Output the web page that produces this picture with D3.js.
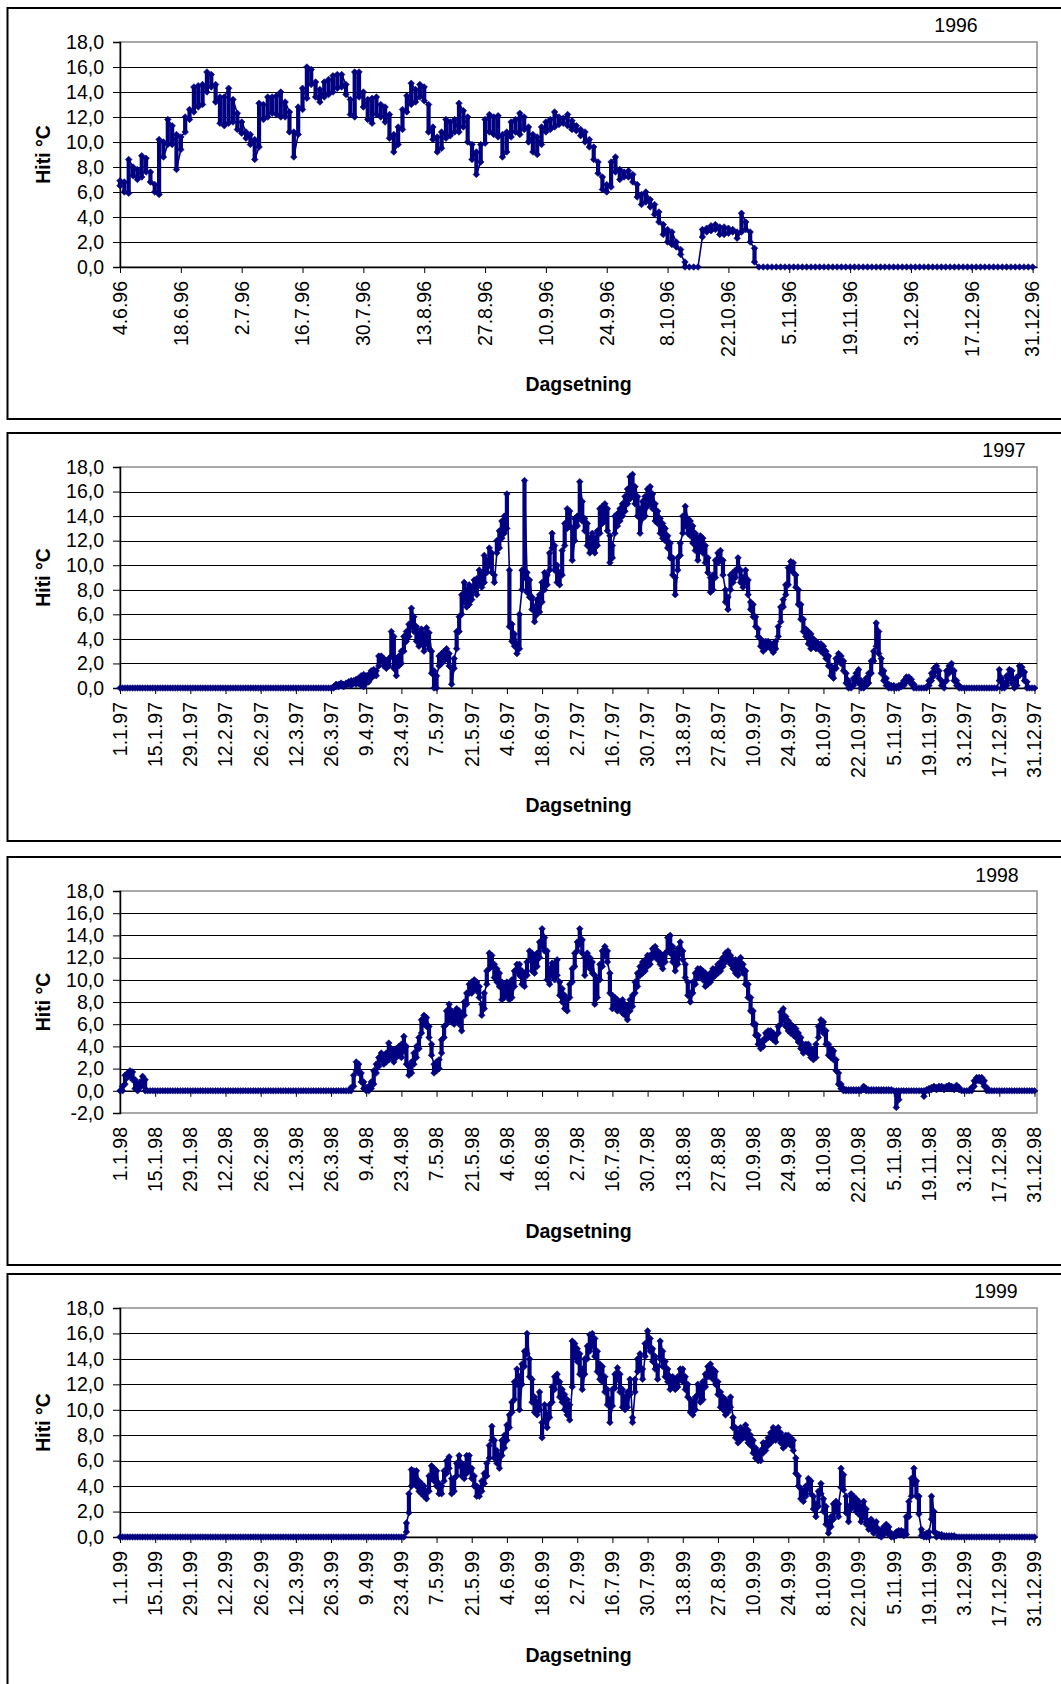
<!DOCTYPE html>
<html>
<head>
<meta charset="utf-8">
<script src="https://cdn.jsdelivr.net/npm/d3@7"></script>
<style>
  body { margin: 0; background: #fff; }
  svg { display: block; }
  text { font-family: "Liberation Sans", Arial, sans-serif; fill: #000; }
</style>
</head>
<body>
<svg id="chart" width="1061" height="1684"></svg>
<script>
// Daily water temperature (°C): lowest and highest reading of each day.

// 1996, from 4 June to 31 December
const low1996 = [
  6.5,6.0,5.9,7.3,7.0,7.2,7.6,6.8,6.0,5.8,
  8.8,9.8,9.8,7.8,9.4,10.8,11.8,12.4,12.8,13.0,
  14.0,14.4,13.2,11.5,11.3,11.5,11.6,11.0,10.7,10.3,
  9.8,8.6,9.6,11.8,12.0,12.3,12.2,12.0,12.0,10.8,
  8.8,10.6,12.6,13.5,14.6,13.6,13.2,13.6,13.8,14.0,
  14.3,14.4,13.8,12.2,12.0,13.6,12.8,11.8,11.5,12.2,
  12.0,11.6,10.3,9.2,9.8,11.0,12.4,13.0,13.2,13.6,
  13.3,10.8,10.2,9.2,9.5,10.3,10.5,10.8,10.8,11.2,
  10.0,8.6,7.4,8.4,9.9,10.8,10.6,10.4,8.8,9.2,
  10.4,10.8,10.6,11.0,10.0,9.2,9.0,9.8,10.8,11.0,
  11.2,11.4,11.5,11.3,11.0,10.9,10.5,10.0,9.6,8.6,
  7.5,6.2,6.0,6.4,7.6,7.0,7.2,7.2,6.8,5.6,
  5.0,5.2,4.8,4.2,3.6,2.6,2.0,1.8,1.6,1.0,
  0,0,0,0,2.4,2.8,2.9,3.0,2.6,2.6,
  2.7,2.8,2.3,2.8,3.0,2.0,0.4,0,0,0,
  0,0,0,0,0,0,0,0,0,0,
  0,0,0,0,0,0,0,0,0,0,
  0,0,0,0,0,0,0,0,0,0,
  0,0,0,0,0,0,0,0,0,0,
  0,0,0,0,0,0,0,0,0,0,
  0,0,0,0,0,0,0,0,0,0,
  0
];
const high1996 = [
  6.9,6.8,8.6,8.0,7.8,8.9,8.7,7.6,6.6,10.2,
  10.0,11.8,11.3,10.6,10.4,12.0,12.6,14.4,14.5,14.6,
  15.6,15.4,14.6,13.6,13.6,14.3,13.4,12.3,11.6,10.8,
  10.6,10.2,13.1,13.0,13.6,13.6,13.7,14.0,13.2,12.4,
  10.8,12.8,14.3,16.0,15.8,14.8,14.2,14.8,15.0,15.3,
  15.4,15.4,14.6,13.4,15.6,15.6,14.0,13.4,13.5,13.6,
  13.0,12.8,12.2,10.6,11.2,12.6,13.7,14.7,14.2,14.6,
  14.4,13.0,11.2,10.4,10.8,11.8,11.6,11.8,13.1,12.5,
  12.0,9.8,9.2,9.8,11.8,12.2,12.0,12.1,10.6,10.8,
  11.6,11.8,12.3,12.0,11.2,10.6,10.4,11.2,11.6,11.8,
  12.4,12.0,11.9,12.2,11.7,11.3,11.0,10.8,10.2,9.6,
  8.4,7.2,6.6,8.4,8.8,7.8,7.6,7.7,7.4,6.6,
  5.8,6.0,5.4,5.0,4.4,3.4,3.0,2.8,2.0,1.4,
  0.4,0,0,0,3.0,3.1,3.3,3.4,3.2,3.2,
  3.1,3.0,2.8,4.3,3.6,2.8,1.5,0,0,0,
  0,0,0,0,0,0,0,0,0,0,
  0,0,0,0,0,0,0,0,0,0,
  0,0,0,0,0,0,0,0,0,0,
  0,0,0,0,0,0,0,0,0,0,
  0,0,0,0,0,0,0,0,0,0,
  0,0,0,0,0,0,0,0,0,0,
  0
];

// 1997, whole year
const low1997 = [
  0,0,0,0,0,0,0,0,0,0, 0,0,0,0,0,0,0,0,0,0,
  0,0,0,0,0,0,0,0,0,0, 0,0,0,0,0,0,0,0,0,0,
  0,0,0,0,0,0,0,0,0,0, 0,0,0,0,0,0,0,0,0,0,
  0,0,0,0,0,0,0,0,0,0, 0,0,0,0,0,0,0,0,0,0,
  0,0,0,0,0,0,0.1,0.1,0.2,0.1,
  0.2,0.3,0.2,0.4,0.3,0.4,0.2,0.1,0.4,0.5,
  0.8,1.0,1.0,1.8,2.2,1.8,1.6,1.8,2.6,1.6,
  1.0,1.8,2.0,3.0,3.8,4.2,5.0,4.6,3.8,3.4,
  3.6,3.0,3.6,3.2,1.2,0,0,1.8,2.0,2.2,
  2.4,1.8,0.3,1.6,3.2,4.6,6.0,7.0,6.6,6.8,
  7.2,8.0,7.6,8.6,8.2,8.6,9.4,10.0,9.4,8.6,
  11.0,11.4,12.2,12.6,13.0,5.0,3.8,3.4,2.8,3.2,
  8.0,9.0,7.8,7.4,6.4,5.4,6.0,6.2,7.0,8.0,
  8.4,9.6,11.4,9.6,8.6,8.4,9.2,11.6,13.0,13.2,
  10.4,12.0,13.2,14.0,13.6,12.8,11.6,11.0,11.2,11.0,
  11.6,12.6,13.4,13.6,12.8,10.2,10.6,12.6,13.2,13.6,
  14.0,14.4,15.0,15.4,15.6,15.0,14.0,12.6,13.8,14.0,
  14.8,15.0,14.6,13.6,13.4,12.6,12.2,12.0,11.4,10.6,
  9.2,7.6,9.6,10.8,12.6,13.2,12.6,12.4,11.8,11.2,
  10.4,11.2,11.0,10.2,9.4,7.8,8.0,9.0,10.2,10.4,
  9.2,7.0,6.4,8.0,8.6,9.0,9.6,8.6,8.2,8.6,
  7.6,6.4,5.8,5.0,4.2,3.4,3.0,3.2,3.4,3.2,
  2.9,3.2,4.2,5.4,6.6,7.6,8.4,9.6,9.4,8.2,
  6.8,5.6,4.6,4.2,3.6,3.2,3.4,3.2,3.2,3.0,
  2.8,2.4,1.8,1.0,0.8,1.6,2.2,2.0,1.4,0.4,
  0,0,0.2,0.6,0.4,0,0,0.2,0.4,1.2,
  2.2,3.4,2.8,1.2,0.6,0.2,0,0,0,0,
  0,0.1,0.2,0.5,0.6,0.3,0,0,0,0,
  0,0,0.2,0.6,1.0,1.4,0.8,0.2,0,0.6,
  1.2,1.4,0.6,0.2,0,0,0,0,0,0,
  0,0,0,0,0,0,0,0,0,0,
  0.6,0,0,0.2,0.8,0.4,0,0.2,1.0,1.2,
  0.6,0,0,0,0
];
const high1997 = [
  0,0,0,0,0,0,0,0,0,0, 0,0,0,0,0,0,0,0,0,0,
  0,0,0,0,0,0,0,0,0,0, 0,0,0,0,0,0,0,0,0,0,
  0,0,0,0,0,0,0,0,0,0, 0,0,0,0,0,0,0,0,0,0,
  0,0,0,0,0,0,0,0,0,0, 0,0,0,0,0,0,0,0,0,0,
  0,0,0,0,0,0.1,0.3,0.3,0.4,0.3,
  0.4,0.5,0.6,0.6,0.7,0.8,1.0,1.1,1.0,1.1,
  1.4,1.5,1.4,2.6,2.6,2.4,2.2,2.4,4.6,4.2,
  2.4,2.6,3.0,4.2,4.6,5.2,6.5,5.8,5.0,4.6,
  4.8,4.4,4.9,4.5,3.0,1.4,1.0,2.6,2.8,3.0,
  3.2,2.8,1.6,2.4,4.6,5.8,7.6,8.6,8.0,8.4,
  8.2,8.8,8.9,9.6,9.4,10.8,10.4,11.4,11.0,9.2,
  12.0,12.8,13.6,14.0,15.8,9.6,5.2,4.4,3.6,6.0,
  9.6,16.9,9.4,8.8,7.4,6.6,7.2,7.6,8.6,9.4,
  9.2,11.0,12.6,11.6,10.0,9.4,11.2,13.4,14.6,14.4,
  13.0,13.8,14.0,16.8,15.2,13.8,13.4,12.2,12.6,12.2,
  12.8,14.6,14.8,15.0,14.6,12.4,11.6,14.0,14.2,14.6,
  15.0,15.6,16.2,17.2,17.4,16.4,15.6,14.6,15.2,15.6,
  16.2,16.4,15.8,15.0,14.4,13.8,13.4,13.0,12.4,11.8,
  10.6,9.0,10.6,11.8,14.0,14.8,13.8,13.6,13.2,12.6,
  12.2,12.4,12.2,11.6,10.6,9.0,9.2,10.4,11.0,11.2,
  10.4,8.0,7.4,9.2,9.4,9.6,10.6,9.6,9.0,9.6,
  8.8,7.0,6.8,5.8,4.8,4.0,3.8,3.8,3.8,3.6,
  3.6,3.8,5.0,6.6,7.2,8.4,9.8,10.3,10.2,9.2,
  8.0,6.8,5.6,4.8,4.6,4.4,4.0,3.8,3.6,3.6,
  3.4,3.0,2.6,1.8,1.6,2.4,2.8,2.6,2.2,1.2,
  0.6,0.2,0.8,1.2,1.5,0.6,0.4,0.8,1.2,2.2,
  3.0,5.3,4.6,2.4,1.4,0.8,0.3,0.2,0.2,0.1,
  0.2,0.3,0.6,0.9,0.9,0.7,0.3,0,0,0,
  0,0.1,0.6,1.2,1.6,1.8,1.4,0.6,0.4,1.4,
  1.8,2.0,1.4,0.6,0.2,0,0,0,0,0,
  0,0,0,0,0,0,0,0,0,0,
  1.5,0.8,0.4,1.0,1.5,1.4,0.6,0.9,1.8,1.7,
  1.3,0.5,0,0,0
];

// 1998, whole year
const low1998 = [
  0,0,0.6,1.2,1.4,1.0,0.2,0,0.3,0.6,
  0,0,0,0,0,0,0,0,0,0,
  0,0,0,0,0,0,0,0,0,0, 0,0,0,0,0,0,0,0,0,0,
  0,0,0,0,0,0,0,0,0,0, 0,0,0,0,0,0,0,0,0,0,
  0,0,0,0,0,0,0,0,0,0, 0,0,0,0,0,0,0,0,0,0,
  0,0,0,0,0,0,0,0,0,0,
  0,0,0,0.4,1.8,1.6,0.8,0.2,0,0,
  0.2,0.6,1.6,2.2,2.8,2.4,2.6,2.8,3.0,2.6,
  3.0,3.2,3.0,3.6,2.4,1.4,1.6,2.4,3.0,3.8,
  5.2,6.0,5.8,4.8,3.2,1.6,1.8,2.0,3.4,4.8,
  6.0,6.4,6.2,6.0,6.4,6.0,5.4,6.8,7.8,8.8,
  8.8,9.2,9.0,8.4,6.8,7.4,9.6,11.0,11.2,10.2,
  9.8,9.4,8.2,8.4,8.6,8.2,8.4,9.4,10.8,10.4,
  9.6,9.4,10.4,11.8,10.8,10.6,11.2,12.0,13.0,12.6,
  10.0,9.6,10.4,10.0,10.4,8.6,8.0,7.4,7.2,8.4,
  9.8,11.2,12.6,13.2,12.4,10.4,11.4,11.0,10.6,7.8,
  8.4,10.0,11.2,12.2,11.6,8.8,7.4,7.6,7.2,7.4,
  7.0,6.8,6.4,7.2,7.6,8.8,9.4,10.4,10.6,10.8,
  11.2,11.4,12.0,12.2,11.8,11.4,11.0,11.6,12.6,12.4,
  11.6,10.8,11.4,12.4,11.8,10.2,8.6,8.0,8.8,9.6,
  10.2,10.4,10.0,9.4,9.6,9.8,10.2,10.4,10.6,10.8,
  11.2,11.6,11.8,11.4,11.0,10.6,10.4,11.0,10.6,9.6,
  8.4,7.2,6.0,5.0,4.2,3.8,4.0,4.6,4.8,4.8,
  4.6,4.4,5.2,6.0,6.4,5.8,5.4,5.2,5.0,4.8,
  4.4,3.8,3.4,3.6,3.4,3.0,2.8,3.0,4.8,5.6,
  5.2,4.2,3.2,3.0,2.8,1.8,0.6,0.2,0,0,
  0,0,0,0,0,0,0.1,0,0,0,
  0,0,0,0,0,0,0,0,0,-1.5,
  -0.8,0,0,0,0,0,0,0,0,0,
  -0.5,0,0,0.1,0.2,0.1,0.2,0.2,0.1,0.2,
  0.2,0.2,0.1,0.3,0.1,0,0,0,0,0,
  0.4,0.9,0.9,0.8,0.4,0,0,0,0,0,
  0,0,0,0,0,0,0,0,0,0,
  0,0,0,0,0
];
const high1998 = [
  0,0.4,1.4,1.6,1.8,1.7,1.0,0.6,0.8,1.3,
  1.0,0,0,0,0,0,0,0,0,0,
  0,0,0,0,0,0,0,0,0,0, 0,0,0,0,0,0,0,0,0,0,
  0,0,0,0,0,0,0,0,0,0, 0,0,0,0,0,0,0,0,0,0,
  0,0,0,0,0,0,0,0,0,0, 0,0,0,0,0,0,0,0,0,0,
  0,0,0,0,0,0,0,0,0,0,
  0,0,0.3,1.4,2.6,2.4,1.6,0.8,0.3,0.4,
  0.8,1.8,2.4,3.0,3.4,3.2,3.4,4.3,3.8,3.6,
  3.8,4.0,4.2,4.9,4.0,2.2,2.6,3.4,4.0,4.8,
  6.4,6.8,6.6,5.8,4.2,2.4,2.6,2.8,4.6,5.8,
  7.2,7.8,7.2,7.0,7.4,7.2,7.0,8.0,8.8,9.6,
  9.8,10.0,9.8,9.4,7.8,8.8,10.8,12.4,12.2,11.4,
  11.0,10.6,9.8,9.4,9.8,9.6,10.0,10.8,11.4,11.4,
  10.8,10.6,11.6,12.6,12.4,12.2,12.4,13.4,14.6,13.8,
  12.6,11.0,11.5,11.5,11.8,9.8,9.2,8.6,8.2,9.6,
  11.0,12.4,13.4,14.6,13.6,12.0,12.4,12.0,11.6,10.4,
  10.0,11.4,12.6,13.0,12.6,10.6,8.6,8.4,8.2,8.0,
  8.2,7.8,7.6,8.2,8.6,9.8,10.6,11.2,11.6,11.8,
  12.2,12.2,12.8,13.0,12.6,12.4,12.2,12.4,13.8,14.0,
  13.0,12.4,12.8,13.4,12.6,11.4,9.8,8.8,9.8,10.6,
  11.0,11.0,10.8,10.6,10.4,10.6,11.0,11.0,11.4,11.6,
  12.0,12.4,12.6,12.2,11.8,11.8,11.6,12.0,11.4,10.8,
  9.6,8.4,7.2,6.0,5.0,4.4,4.6,5.2,5.4,5.4,
  5.2,5.0,5.8,7.1,7.4,6.7,6.3,6.0,5.8,5.6,
  5.2,4.8,4.2,4.2,4.2,3.8,3.6,4.2,5.8,6.4,
  6.2,5.4,4.2,3.8,3.6,2.8,1.6,0.6,0.2,0.1,
  0.1,0.1,0.1,0.1,0.1,0.1,0.4,0.2,0.1,0.1,
  0.1,0.1,0.1,0.1,0.1,0.1,0.1,0.1,0,0,
  0,0,0,0,0,0,0,0,0,0,
  0,0.1,0.2,0.3,0.4,0.3,0.4,0.4,0.3,0.4,
  0.5,0.4,0.3,0.5,0.3,0,0,0,0,0.3,
  0.9,1.2,1.2,1.2,0.9,0.3,0,0,0,0,
  0,0,0,0,0,0,0,0,0,0,
  0,0,0,0,0
];

// 1999, whole year
const low1999 = [
  0,0,0,0,0,0,0,0,0,0, 0,0,0,0,0,0,0,0,0,0,
  0,0,0,0,0,0,0,0,0,0, 0,0,0,0,0,0,0,0,0,0,
  0,0,0,0,0,0,0,0,0,0, 0,0,0,0,0,0,0,0,0,0,
  0,0,0,0,0,0,0,0,0,0, 0,0,0,0,0,0,0,0,0,0,
  0,0,0,0,0,0,0,0,0,0, 0,0,0,0,0,0,0,0,0,0,
  0,0,0,0,0,0,0,0,0,0,
  0,0,0,0,0.4,1.9,4.0,4.2,4.0,3.6,
  3.4,3.2,3.0,3.6,4.6,4.4,4.0,3.4,3.4,4.4,
  5.0,5.4,3.4,3.6,4.8,5.6,4.8,4.6,5.0,5.2,
  4.6,4.0,3.2,3.2,3.6,4.2,4.8,6.2,7.6,6.2,
  5.8,5.4,6.4,7.0,7.6,8.6,9.8,10.8,12.0,10.0,
  12.0,13.4,14.4,12.6,10.6,9.8,9.6,10.0,7.8,9.2,
  8.6,9.4,10.6,11.6,12.2,11.0,10.6,10.0,9.6,9.2,
  11.8,14.2,13.8,12.8,11.6,12.8,14.0,14.6,15.0,14.2,
  13.0,12.4,12.2,11.4,10.4,9.0,10.3,11.7,12.4,11.4,
  10.2,10.0,10.2,11.2,9.0,11.4,13.0,13.2,12.4,14.2,
  15.0,14.6,13.8,13.2,12.4,14.0,13.4,12.6,12.2,11.6,
  11.8,11.6,11.8,12.4,12.2,11.6,11.0,9.8,9.6,10.0,
  11.2,10.6,10.8,11.8,12.6,12.6,12.4,12.0,11.2,10.2,
  10.0,9.6,9.8,10.2,8.6,7.8,7.4,7.6,7.8,7.8,
  7.4,7.2,6.6,6.2,6.0,6.0,6.6,6.8,7.2,7.4,
  7.6,7.6,7.8,7.4,7.0,7.2,7.4,7.2,6.8,5.0,
  4.0,3.0,2.8,3.2,3.8,3.4,2.2,1.6,2.4,3.4,
  2.0,1.0,0.3,0.8,1.4,2.0,1.6,3.9,3.7,1.9,
  1.2,2.2,2.4,2.0,1.8,1.2,1.6,1.0,0.6,0.6,
  0.3,0.5,0.1,0,0.2,0.4,0.2,0,0,0.1,
  0.2,0.2,0.1,0.2,1.6,3.2,4.2,3.2,1.8,0.1,
  0,0,0,1.4,0.4,0,0.1,0,0,0,
  0,0,0,0,0,0,0,0,0,0,
  0,0,0,0,0,0,0,0,0,0,
  0,0,0,0,0,0,0,0,0,0,
  0,0,0,0,0
];
const high1999 = [
  0,0,0,0,0,0,0,0,0,0, 0,0,0,0,0,0,0,0,0,0,
  0,0,0,0,0,0,0,0,0,0, 0,0,0,0,0,0,0,0,0,0,
  0,0,0,0,0,0,0,0,0,0, 0,0,0,0,0,0,0,0,0,0,
  0,0,0,0,0,0,0,0,0,0, 0,0,0,0,0,0,0,0,0,0,
  0,0,0,0,0,0,0,0,0,0, 0,0,0,0,0,0,0,0,0,0,
  0,0,0,0,0,0,0,0,0,0,
  0,0,0,0,1.1,3.4,5.3,5.2,5.2,4.4,
  4.2,4.0,3.6,4.8,5.6,5.4,5.2,4.2,4.0,5.2,
  6.0,6.3,4.6,4.6,5.8,6.4,5.8,5.6,6.4,6.4,
  5.4,4.8,4.0,3.8,4.4,5.0,5.8,7.2,8.7,7.6,
  6.8,6.4,7.6,8.0,8.8,9.6,10.6,12.2,13.2,12.6,
  13.6,14.6,16.0,14.0,12.4,11.0,10.6,11.4,9.0,10.4,
  9.6,10.4,11.8,12.6,12.8,12.2,11.6,11.2,10.8,10.4,
  15.4,15.2,14.8,14.4,13.2,14.0,15.0,15.9,16.0,15.6,
  14.6,13.6,13.4,12.6,11.6,10.8,11.6,12.8,13.3,12.8,
  11.6,11.0,11.4,12.4,9.4,12.4,14.0,14.4,13.2,15.2,
  16.2,15.6,14.8,14.2,13.4,15.4,14.6,13.8,13.2,12.6,
  12.6,12.4,12.6,13.2,13.2,12.6,12.0,10.8,10.6,11.0,
  12.0,11.8,12.2,12.8,13.4,13.6,13.2,13.0,12.2,11.4,
  11.0,10.8,10.6,11.0,9.4,8.6,8.2,8.6,8.4,8.8,
  8.4,8.0,7.6,7.0,6.6,6.8,7.4,7.4,7.8,8.2,
  8.6,8.4,8.6,8.2,7.8,8.0,8.0,7.8,7.6,6.2,
  4.8,3.8,3.6,4.0,4.6,4.4,3.2,2.6,3.6,4.2,
  3.0,2.4,1.2,1.6,2.6,2.8,2.6,5.4,4.9,3.2,
  2.4,3.4,3.2,3.0,2.8,2.4,2.8,2.2,1.2,1.4,
  1.1,1.2,0.6,0.5,0.8,1.0,0.8,0.3,0.1,0.4,
  0.5,0.5,0.4,1.6,2.8,4.6,5.4,4.4,3.2,0.6,
  0.2,0.3,0.4,3.2,2.0,0.3,0.2,0.2,0.1,0.1,
  0.1,0.1,0.1,0,0,0,0,0,0,0,
  0,0,0,0,0,0,0,0,0,0,
  0,0,0,0,0,0,0,0,0,0,
  0,0,0,0,0
];

// Axis tick labels
const dateTicks1996 = ["4.6.96","18.6.96","2.7.96","16.7.96","30.7.96","13.8.96","27.8.96","10.9.96","24.9.96","8.10.96","22.10.96","5.11.96","19.11.96","3.12.96","17.12.96","31.12.96"];
const dateTicks1997 = ["1.1.97","15.1.97","29.1.97","12.2.97","26.2.97","12.3.97","26.3.97","9.4.97","23.4.97","7.5.97","21.5.97","4.6.97","18.6.97","2.7.97","16.7.97","30.7.97","13.8.97","27.8.97","10.9.97","24.9.97","8.10.97","22.10.97","5.11.97","19.11.97","3.12.97","17.12.97","31.12.97"];
const dateTicks1998 = ["1.1.98","15.1.98","29.1.98","12.2.98","26.2.98","12.3.98","26.3.98","9.4.98","23.4.98","7.5.98","21.5.98","4.6.98","18.6.98","2.7.98","16.7.98","30.7.98","13.8.98","27.8.98","10.9.98","24.9.98","8.10.98","22.10.98","5.11.98","19.11.98","3.12.98","17.12.98","31.12.98"];
const dateTicks1999 = ["1.1.99","15.1.99","29.1.99","12.2.99","26.2.99","12.3.99","26.3.99","9.4.99","23.4.99","7.5.99","21.5.99","4.6.99","18.6.99","2.7.99","16.7.99","30.7.99","13.8.99","27.8.99","10.9.99","24.9.99","8.10.99","22.10.99","5.11.99","19.11.99","3.12.99","17.12.99","31.12.99"];
const tempTicks = [0,2,4,6,8,10,12,14,16,18];
const tempTicks1998 = [-2,0,2,4,6,8,10,12,14,16,18];
const yAxisTitle = "Hiti °C";
const xAxisTitle = "Dagsetning";

// ---- layout ----
const plotLeft = 120, plotRight = 1037;
const FONT = 19.5;
const NAVY = "#000080";

const panels = [
  { year: "1996", first: "4.6.96",  low: low1996, high: high1996, labels: dateTicks1996, yTicks: tempTicks,
    frameTop: 8,    frameBottom: 419,  plotTop: 42,   plotBottom: 267,  yearX: 956,  yearY: 25,   titleY: 384 },
  { year: "1997", first: "1.1.97",  low: low1997, high: high1997, labels: dateTicks1997, yTicks: tempTicks,
    frameTop: 433,  frameBottom: 841,  plotTop: 467,  plotBottom: 688,  yearX: 1004, yearY: 450,  titleY: 805 },
  { year: "1998", first: "1.1.98",  low: low1998, high: high1998, labels: dateTicks1998, yTicks: tempTicks1998,
    frameTop: 857,  frameBottom: 1265, plotTop: 891,  plotBottom: 1113, yearX: 997,  yearY: 875,  titleY: 1231 },
  { year: "1999", first: "1.1.99",  low: low1999, high: high1999, labels: dateTicks1999, yTicks: tempTicks,
    frameTop: 1274, frameBottom: 1760, plotTop: 1308, plotBottom: 1537, yearX: 996,  yearY: 1291, titleY: 1655 }
];

const parseDate = d3.utcParse("%d.%m.%y");
const numFormat = d3.formatLocale({ decimal: ",", thousands: ".", grouping: [3], currency: ["", ""], minus: "-" }).format(".1f");
const svg = d3.select("#chart");
const R = 3.3;
const diamond = `M0,${-R}L${R},0L0,${R}L${-R},0Z`;

function drawPanel(p) {
  const t0 = parseDate(p.first);
  const n = p.low.length;
  if (p.high.length !== n) throw new Error(p.year + ": low/high length mismatch " + n + " vs " + p.high.length);
  const lastTick = parseDate(p.labels[p.labels.length - 1]);
  if (d3.utcDay.count(t0, lastTick) !== n - 1) throw new Error(p.year + ": expected " + (d3.utcDay.count(t0, lastTick) + 1) + " days, got " + n);

  const x = d3.scaleUtc().domain([t0, d3.utcDay.offset(t0, n)]).range([plotLeft, plotRight]);
  const yMin = p.yTicks[0], yMax = p.yTicks[p.yTicks.length - 1];
  const y = d3.scaleLinear().domain([yMin, yMax]).range([p.plotBottom, p.plotTop]);
  const g = svg.append("g");

  // panel frame
  g.append("rect")
    .attr("x", 7.5).attr("y", p.frameTop)
    .attr("width", 1100).attr("height", p.frameBottom - p.frameTop)
    .attr("fill", "none").attr("stroke", "#000").attr("stroke-width", 2);

  // plot area border
  g.append("rect")
    .attr("x", plotLeft).attr("y", p.plotTop)
    .attr("width", plotRight - plotLeft).attr("height", p.plotBottom - p.plotTop)
    .attr("fill", "none").attr("stroke", "#8c8c8c").attr("stroke-width", 1.5);

  // horizontal gridlines
  g.append("g").selectAll("line")
    .data(p.yTicks.filter(v => v !== yMin && v !== yMax && v !== 0))
    .join("line")
    .attr("x1", plotLeft).attr("x2", plotRight)
    .attr("y1", d => Math.round(y(d)) + 0.5).attr("y2", d => Math.round(y(d)) + 0.5)
    .attr("stroke", "#000").attr("stroke-width", 1);

  // y axis
  const yAxis = g.append("g")
    .attr("transform", `translate(${plotLeft},0)`)
    .call(d3.axisLeft(y).tickValues(p.yTicks).tickSize(7).tickPadding(9).tickFormat(numFormat));
  yAxis.select(".domain").attr("stroke", "#000").attr("stroke-width", 1.5);
  yAxis.selectAll("line").attr("stroke", "#000");
  yAxis.selectAll("text").attr("font-size", FONT).attr("font-family", null);

  // x axis on the zero line
  const tickDates = p.labels.map(parseDate);
  const xAxis = g.append("g")
    .attr("transform", `translate(0,${y(0)})`)
    .call(d3.axisBottom(x).tickValues(tickDates).tickSize(6).tickSizeOuter(0).tickFormat(""));
  xAxis.select(".domain").attr("stroke", "#000").attr("stroke-width", 1.5);
  xAxis.selectAll("line").attr("stroke", "#000");

  // rotated date labels below the plot area
  g.append("g").selectAll("text")
    .data(p.labels)
    .join("text")
    .attr("transform", (d, i) => `translate(${x(tickDates[i])},${p.plotBottom + 14}) rotate(-90)`)
    .attr("text-anchor", "end")
    .attr("dy", "0.35em")
    .attr("font-size", FONT)
    .text(d => d);

  // series: every day contributes its lowest and highest reading
  const pts = [];
  const days = [];
  let prev = null;
  for (let i = 0; i < n; i++) {
    const t = d3.utcDay.offset(t0, i);
    const a = p.low[i], b = p.high[i];
    days.push({ t, lo: a, hi: b });
    let vals;
    if (a === b) vals = [a];
    else if (prev !== null && Math.abs(prev - b) < Math.abs(prev - a)) vals = [b, a];
    else vals = [a, b];
    vals.forEach(v => pts.push([t, v]));
    prev = vals[vals.length - 1];
  }
  g.append("path")
    .datum(pts)
    .attr("fill", "none").attr("stroke", NAVY).attr("stroke-width", 1.6)
    .attr("d", d3.line().x(d => x(d[0])).y(d => y(d[1])));
  // the readings of one day stack up vertically at that day's position
  g.append("g").selectAll("line")
    .data(days.filter(d => d.hi > d.lo))
    .join("line")
    .attr("x1", d => x(d.t)).attr("x2", d => x(d.t))
    .attr("y1", d => y(d.lo)).attr("y2", d => y(d.hi))
    .attr("stroke", NAVY).attr("stroke-width", 4.2);
  g.append("g").selectAll("path")
    .data(pts)
    .join("path")
    .attr("d", diamond)
    .attr("transform", d => `translate(${x(d[0])},${y(d[1])})`)
    .attr("fill", NAVY).attr("stroke", NAVY).attr("stroke-width", 0.6);

  // titles
  g.append("text")
    .attr("x", p.yearX).attr("y", p.yearY).attr("dy", "0.35em")
    .attr("text-anchor", "middle").attr("font-size", FONT)
    .text(p.year);
  g.append("text")
    .attr("x", (plotLeft + plotRight) / 2).attr("y", p.titleY).attr("dy", "0.35em")
    .attr("text-anchor", "middle").attr("font-size", FONT).attr("font-weight", "bold")
    .text(xAxisTitle);
  g.append("text")
    .attr("transform", `translate(43,${(p.plotTop + p.plotBottom) / 2}) rotate(-90)`)
    .attr("dy", "0.35em")
    .attr("text-anchor", "middle").attr("font-size", FONT).attr("font-weight", "bold")
    .text(yAxisTitle);
}

panels.forEach(drawPanel);
</script>
</body>
</html>
